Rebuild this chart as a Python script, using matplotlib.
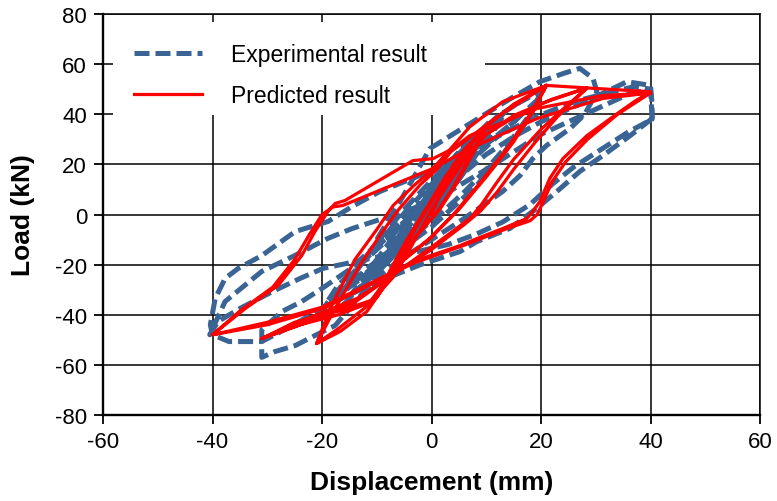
import matplotlib
matplotlib.use('Agg')
import matplotlib.pyplot as plt
from matplotlib.lines import Line2D
from matplotlib.patches import Rectangle

plt.rcParams['font.family'] = ['Liberation Sans', 'DejaVu Sans']
plt.rcParams['axes.unicode_minus'] = False

EXP_BLUE = '#3a6494'
PRED_RED = '#ff0000'

# --- experimental hysteresis (displacement mm, load kN) ---
# small cycles around the origin
exp_core_x = [0, 1, 3, 4, 2, 0, -2, -4, -6, -4.5, -2.5, -0.5, 1.5, 4, 5.5, 7.5, 9, 7, 5, 3, 1, -2, -5, -8, -11,
              -9, -7, -4.5, -2, 1, 4, 6.5, 9, 7, 4, 1, -2, -6, -9, -11, -8.5, -6, -3, 0, 3, 6, 9, 11, 13.5,
              11, 8, 5, 2, -1, -5, -9, -13, -16, -13.5, -11, -8, -5, -2, 2, 6, 10, 13.5, 11, 7, 3, 0, -4, -8,
              -12, -16, -18, -15.5, -12, -8, -4, 0, 4, 8, 12, 15.5]
exp_core_y = [0, 8, 15, 19, 12, 4, -4, -10, -15, -8, -1, 6, 13, 19, 24, 30, 33, 26, 18, 10, 3, -5, -12, -19, -25,
              -19, -12, -4, 4, 12, 21, 27, 33, 25, 15, 6, -3, -12, -19, -25, -16, -7, 2, 11, 19, 28, 33, 36, 41,
              33, 24, 14, 5, -3, -11, -18, -25, -30, -22, -14, -6, 2, 9, 18, 27, 35, 41, 32, 21, 11, 3, -7, -15,
              -22, -30, -34, -27, -17, -7, 3, 12, 22, 31, 39, 44]

exp_core2_x = [-3, -1, 1, 3, 5, 7, 5, 3, 0, -3, -6, -9, -12, -14, -11, -8, -5, -2, 1, 4, 7, 10, 12, 10, 7, 4,
               1, -2, -5, -8, -11, -14, -16, -13, -10, -7, -4, -1, 2, 5, 8, 11]
exp_core2_y = [-2, 5, 12, 18, 24, 28, 20, 12, 3, -6, -14, -21, -27, -31, -23, -15, -7, 1, 9, 17, 25, 33, 38, 30,
               20, 11, 3, -5, -12, -19, -25, -31, -36, -27, -18, -9, -1, 7, 15, 23, 31, 38]

# cycles to +/-20 mm
exp_c20_x = [15.5, 18, 20, 18, 15, 12, 8, 4, 0, -5, -10, -15, -20, -17, -13, -9, -5, 0, 5, 10, 15, 20,
             18, 14, 10, 6, 2, -3, -8, -13, -18, -20, -17, -12, -7, -3, 2, 7, 12, 17]
exp_c20_y = [44, 47, 49, 39, 30, 21, 11, 3, -5, -13, -21, -29, -38, -30, -20, -11, -2, 8, 18, 28, 37, 47,
             40, 28, 18, 9, 1, -8, -17, -25, -33, -38, -28, -18, -8, 1, 11, 21, 31, 41]

# cycle to +/-30 mm
exp_c30_x = [-10, -5, -0.3, 9.4, 15, 19.8, 24.4, 27.1, 29.5, 30.2, 28, 25.3, 21, 18.5, 16.2, 13, 9, 5, 0, -5,
             -10, -14, -17.6, -21.3, -24.9, -28.6, -31, -31, -31, -27.3, -23.7, -20, -15, -10, -5, 0, 5, 10,
             15, 20, 25, 30, 35.7, 40, 40.3, 40.3]
exp_c30_y = [-10, 8, 26.3, 39.5, 47, 53, 56.5, 58.3, 54.3, 49, 40, 34.3, 27.5, 22.3, 15.6, 9.2, 3, -3, -10, -17,
             -25, -35, -44.3, -48.3, -52.3, -54.7, -57, -50, -46, -38.7, -34.7, -29.5, -22, -12, -3, 6, 15, 24,
             31, 37, 42, 47, 53, 51.5, 44, 38.3]

# cycles to +/-40 mm
exp_c40_x = [40.3, 36.3, 31.3, 27.1, 22.9, 19.2, 14.3, 8.3, 5.2, -2, -10, -18, -26, -31, -37, -40, -40.4,
             -39.5, -37.7, -35.3, -31, -24.9, -18.9, -14.5, -9.4, -0.3, 9.4, 18, 26, 33, 37, 40, 40.3,
             36, 31, 26, 22, 18, 13, 8, 3, -3, -10, -19.8, -24, -29, -35, -39, -40.5,
             -37.7, -31, -25, -19, -14.5, -8, 0, 10, 20, 30, 36, 40]
exp_c40_y = [38.3, 31.5, 23.5, 17.2, 9.2, 2.4, -5.6, -10.8, -14.8, -20, -27, -35, -45, -50.7, -50.7, -48, -44,
             -33.5, -25.5, -21.5, -16.4, -6.8, -2.8, 3.2, 9.2, 17.2, 28, 38, 45, 49, 51, 50, 38,
             33, 26, 19, 12, 4, -3, -8, -12, -15, -17, -21.5, -25.5, -30.7, -37.5, -42.7, -48,
             -34.7, -22.7, -16.4, -9.6, -5.6, -1, 5, 18, 32, 42, 48, 50]

# --- predicted hysteresis ---
pred_c10_x = [0, 4, 10, 7, 4, 1, -3, -5.5, -10, -7, -4, 0, 3, 6, 10, 7.5, 4.5, 1.5, -2.5, -5.5, -10,
              -7.5, -4.5, -0.5, 2.5, 6, 10]
pred_c10_y = [0, 20, 35, 23, 11, 1, -9, -18, -33, -21, -9, 5, 16, 26, 35, 24, 12, 2, -8, -18, -33,
              -22, -10, 4, 15, 25, 35]

pred_c20_x = [10, 15, 21, 18, 14, 9, 4, -0.5, -5.5, -11.8, -16.7, -21, -18.5, -14, -10, -7, -3, -0.3, 3, 7,
              13, 21, 18.5, 15, 10, 5, 0, -5.5, -12, -17, -21, -18, -13, -9, -6, -2, 1, 3.5, 12, 21]
pred_c20_y = [35, 44, 51.5, 40, 27, 13, 0, -10, -19, -38.7, -46.7, -51.5, -37.5, -18, -6, 3.6, 12, 17, 25, 35,
              45, 51.5, 41, 29, 15, 2, -9, -18.5, -37, -45.5, -51.5, -39, -20, -7, 2, 12, 18, 25, 39, 51.5]

pred_c30_x = [21, 28.4, 24, 20, 15, 12, 9, 7, 0, -6, -13.6, -22.7, -31, -25, -16, -10.7, -7, -4.5, -2, 0, 3,
              5.8, 10, 15, 21, 28.4, 23, 19, 15, 12, 9, 6, 0, -7, -14, -22, -31, -24, -17, -11, -7.5, -5,
              -2.5, 0, 3, 6, 10, 16, 22, 28.4]
pred_c30_y = [51.5, 50.5, 42, 34, 22, 13, 3.6, -1.6, -13, -22.5, -33.5, -41.5, -49.5, -43, -38, -34, -25, -16,
              -6, 2, 12, 21, 32, 39.5, 45, 50.5, 39, 29, 18, 9, 1.5, -4, -14, -24, -35, -42.5, -49.5, -44,
              -40, -35, -23, -14, -4, 5, 14, 23, 32, 40, 46, 50.5]

pred_c40_x = [28.4, 40, 37, 34.4, 28.4, 24, 21.6, 19.8, 18.5, 17.4, 13, 8.3, 5.2, -3.4, -9.4, -20, -30, -40,
              -34, -28, -23.7, -21.3, -18.9, -17.6, -15.8, -3.4, 0.3, 3.9, 7, 19.3, 31.3, 40,
              34, 28.5, 24.5, 22, 20.4, 19.3, 18, 13.8, 5.8, -3.4, -10, -19.8, -30, -40,
              -35, -29, -25, -22.3, -20, -18, -16.2, 0.3, 7, 19.3, 31.3, 40]
pred_c40_y = [50.5, 49, 45, 41, 31.5, 22.3, 14.4, 5.2, 1.2, -1.6, -5.6, -9.6, -12.4, -18.8, -25.5, -37, -43, -48,
              -37.5, -28.3, -16.4, -6.8, 1.2, 4.4, 5.6, 21.5, 22.3, 26.3, 31.5, 42.3, 47.5, 48.5,
              40, 30, 21, 13, 5, 0, -2.5, -5.6, -12.4, -19.5, -26.7, -37.5, -44, -48,
              -38.5, -29, -18, -8, 0, 3, 3.6, 18.4, 26.3, 38.3, 46.3, 48.5]

exp_loops = [(exp_core_x, exp_core_y), (exp_core2_x, exp_core2_y), (exp_c20_x, exp_c20_y),
             (exp_c30_x, exp_c30_y), (exp_c40_x, exp_c40_y)]
pred_loops = [(pred_c10_x, pred_c10_y), (pred_c20_x, pred_c20_y), (pred_c30_x, pred_c30_y), (pred_c40_x, pred_c40_y)]

fig = plt.figure(figsize=(7.77, 5.02), dpi=100)
ax = fig.add_axes([103 / 777, 1 - 416 / 502, 657 / 777, 401 / 502])

for x, y in exp_loops:
    ax.plot(x, y, color=EXP_BLUE, lw=3.6, dashes=(3.0, 1.2), dash_capstyle='butt',
            dash_joinstyle='round', zorder=2)
for x, y in pred_loops:
    ax.plot(x, y, color=PRED_RED, lw=2.3, solid_joinstyle='round', zorder=3)

ax.set_xlim(-60, 60)
ax.set_ylim(-80, 80)
ax.set_xticks(range(-60, 61, 20))
ax.set_yticks(range(-80, 81, 20))
ax.set_axisbelow(True)
ax.grid(True, color='black', lw=1.1)
ax.tick_params(direction='out', length=6.5, width=1.3, labelsize=16, pad=5)
for side in ['left', 'bottom']:
    ax.spines[side].set_linewidth(1.7)
for side in ['top', 'right']:
    ax.spines[side].set_linewidth(1.1)

ax.set_xlabel('Displacement (mm)', fontsize=19, fontweight='bold', labelpad=13)
ax.set_ylabel('Load (kN)', fontsize=19, fontweight='bold', labelpad=14)

# white block behind the legend hides the grid there
ax.add_patch(Rectangle((0.0152, 0.748), 0.566, 0.232, transform=ax.transAxes,
                       facecolor='white', edgecolor='none', zorder=1.5))
handles = [Line2D([], [], color=EXP_BLUE, lw=3.6, dashes=(3.0, 1.2), dash_capstyle='butt'),
           Line2D([], [], color=PRED_RED, lw=2.3)]
ax.legend(handles, ['Experimental result', 'Predicted result'], loc='upper left',
          bbox_to_anchor=(0.0152, 0.98), frameon=False, fontsize=16.5, handlelength=3.0,
          handletextpad=1.25, borderpad=0.9, labelspacing=0.8, borderaxespad=0)

fig.savefig('out.png', dpi=100)
